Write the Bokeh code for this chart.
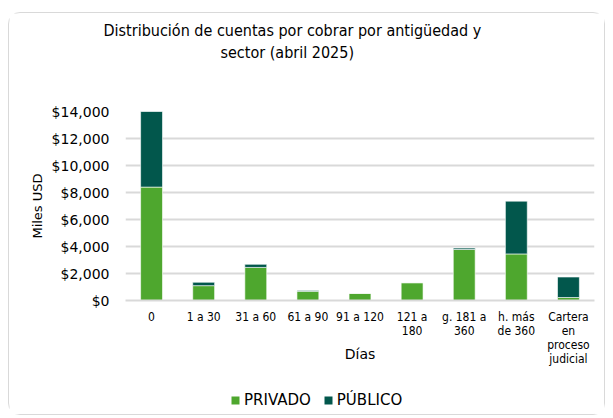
from bokeh.plotting import figure
from bokeh.layouts import column
from bokeh.models import Legend, LegendItem, NumeralTickFormatter, FactorRange, Title
from bokeh.embed import file_html
from bokeh.resources import INLINE

categories = ["0", "1 a 30", "31 a 60", "61 a 90", "91 a 120", "121 a\n180",
              "g. 181 a\n360", "h. más\nde 360", "Cartera\nen\nproceso\njudicial"]
privado = [8400, 1100, 2450, 680, 530, 1320, 3780, 3450, 220]
publico = [5600, 250, 230, 70, 0, 0, 100, 3910, 1520]
series = ["PRIVADO", "PÚBLICO"]
colors = ["#4EA72E", "#02574C"]

FONT = "DejaVu Sans Condensed"
FONT_R = "DejaVu Sans"
W = 595
data = {"cat": categories, "PRIVADO": privado, "PÚBLICO": publico}

# ---- main chart ----
p = figure(x_range=FactorRange(*categories, range_padding=0), y_range=(0, 14000),
           width=W, height=356, output_backend="svg", toolbar_location=None, title=None,
           min_border_left=116, min_border_right=10, min_border_top=98, min_border_bottom=69)
p.outline_line_color = None
p.vbar_stack(series, x="cat", width=0.42, source=data, color=colors,
             line_color="white", line_alpha=0.6, line_width=1)

p.xgrid.grid_line_color = None
p.ygrid.grid_line_color = "#d9d9d9"
p.ygrid.grid_line_width = 2

p.yaxis.formatter = NumeralTickFormatter(format="$0,0")
p.yaxis.axis_line_color = None
p.yaxis.major_tick_line_color = None
p.yaxis.minor_tick_line_color = None
p.yaxis.major_label_text_font = FONT_R
p.yaxis.major_label_text_font_size = "14px"
p.yaxis.major_label_text_color = "#000000"
p.yaxis.major_label_standoff = 10
p.yaxis.axis_label = "Miles USD"
p.yaxis.axis_label_text_font = FONT_R
p.yaxis.axis_label_text_font_size = "13px"
p.yaxis.axis_label_text_font_style = "normal"
p.yaxis.axis_label_text_color = "#000000"
p.yaxis.axis_label_standoff = 4

p.xaxis.axis_line_color = "#d9d9d9"
p.xaxis.axis_line_width = 2
p.xaxis.major_tick_line_color = None
p.xaxis.minor_tick_line_color = None
p.xaxis.major_label_text_font = FONT
p.xaxis.major_label_text_font_size = "12px"
p.xaxis.major_label_text_color = "#000000"
p.xaxis.major_label_text_line_height = 1.0
p.xaxis.major_label_standoff = 3
p.xaxis.axis_label = "Días"
p.xaxis.axis_label_text_font = FONT_R
p.xaxis.axis_label_text_font_size = "14px"
p.xaxis.axis_label_text_font_style = "normal"
p.xaxis.axis_label_text_color = "#000000"
p.xaxis.axis_label_standoff = -23

# title: spacer closest to frame, then second line, then first line
spacer = Title(text=" ", standoff=0, text_font=FONT, text_font_size="41px")
t2 = Title(text="sector (abril 2025)", align="left", offset=95, standoff=0,
           text_font=FONT, text_font_size="16px", text_font_style="normal", text_color="#000000")
t1 = Title(text="Distribución de cuentas por cobrar por antigüedad y", align="left", offset=-22,
           standoff=2, text_font=FONT, text_font_size="16px", text_font_style="normal",
           text_color="#000000")
p.add_layout(spacer, "above")
p.add_layout(t2, "above")
p.add_layout(t1, "above")

# ---- legend strip: same series, y range placed above all values so only the keys show ----
q = figure(x_range=p.x_range, y_range=(50000, 60000), width=W, height=45,
           output_backend="svg", toolbar_location=None, title=None,
           min_border_left=0, min_border_right=0, min_border_top=0, min_border_bottom=0)
q.axis.visible = False
q.grid.grid_line_color = None
q.outline_line_color = None
qs = q.vbar_stack(series, x="cat", width=0.42, source=data, color=colors, line_alpha=0)
legend = Legend(items=[LegendItem(label=s, renderers=[r]) for s, r in zip(series, qs)],
                orientation="horizontal", location=(105, 5),
                glyph_width=10, glyph_height=10, label_standoff=4, spacing=12,
                padding=0, margin=0, border_line_color=None, background_fill_alpha=0,
                label_text_font=FONT_R, label_text_font_size="15px", label_text_color="#000000")
q.add_layout(legend, "center")

page = column(p, q, spacing=0,
              styles={"border": "1px solid #d9d9d9", "border-radius": "12px",
                      "margin-left": "8px", "margin-top": "12px"})

open("out.html", "w").write(file_html(page, INLINE))
